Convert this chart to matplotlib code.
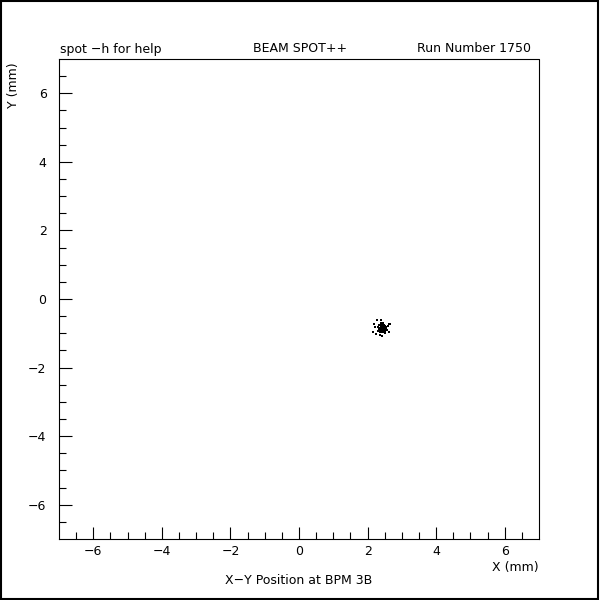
import matplotlib
matplotlib.use("Agg")
import matplotlib.pyplot as plt
from matplotlib.patches import Rectangle

# beam spot hits at BPM 3B (mm)
spot_x = [2.27, 2.39, 2.19, 2.63, 2.66, 2.16, 2.25, 2.36, 2.42, 2.63, 2.54, 2.30,
          2.33, 2.36, 2.39, 2.42, 2.45, 2.48, 2.51, 2.33, 2.36, 2.39, 2.42, 2.45,
          2.48, 2.51, 2.54, 2.33, 2.36, 2.39, 2.42, 2.45, 2.48, 2.51, 2.36, 2.39,
          2.42, 2.45, 2.48, 2.39, 2.45, 2.57, 2.30, 2.22, 2.60, 2.50]
spot_y = [-0.62, -0.62, -0.73, -0.73, -0.73, -0.97, -1.02, -1.05, -1.08, -0.97, -0.85, -0.82,
          -0.76, -0.76, -0.79, -0.76, -0.79, -0.76, -0.79, -0.85, -0.85, -0.88, -0.85, -0.88,
          -0.85, -0.88, -0.82, -0.91, -0.91, -0.94, -0.91, -0.94, -0.91, -0.94, -0.97, -0.97,
          -0.94, -0.97, -0.97, -0.70, -0.70, -0.91, -0.94, -0.82, -0.79, -1.00]

fig = plt.figure(figsize=(6, 6), dpi=100)
ax = fig.add_axes([59 / 600, 61 / 600, 480 / 600, 480 / 600])

ax.plot(spot_x, spot_y, 's', color='black', markersize=1.6, markeredgewidth=0)

ax.set_xlim(-7, 7)
ax.set_ylim(-7, 7)
ax.set_xticks(range(-6, 7, 2))
ax.set_yticks(range(-6, 7, 2))
ax.set_xticks([i * 0.5 for i in range(-13, 14)], minor=True)
ax.set_yticks([i * 0.5 for i in range(-13, 14)], minor=True)
ax.tick_params(which='major', direction='in', length=9, width=0.8, labelsize=9)
ax.tick_params(which='minor', direction='in', length=5, width=0.8)
ax.tick_params(axis='x', pad=4)
ax.tick_params(axis='y', pad=9)
ax.spines['top'].set_visible(False)
ax.spines['right'].set_visible(False)
for s in ['left', 'bottom']:
    ax.spines[s].set_linewidth(0.8)
# frame top/right drawn as plain lines (no ticks there)
ax.plot([-7, 7, 7], [7, 7, -7], color='black', lw=0.8, clip_on=False)

fig.text(60 / 600, 1 - 49 / 600, 'spot \u2212h for help', fontsize=9, ha='left', va='center')
fig.text(300 / 600, 1 - 49 / 600, 'BEAM SPOT++', fontsize=9, ha='center', va='center')
fig.text(531 / 600, 1 - 49 / 600, 'Run Number 1750', fontsize=9, ha='right', va='center')
fig.text(13 / 600, 1 - 62 / 600, 'Y (mm)', fontsize=9, rotation=90, ha='center', va='top')
fig.text(539 / 600, 1 - 568 / 600, 'X (mm)', fontsize=9, ha='right', va='center')
fig.text(299 / 600, 1 - 580 / 600, 'X\u2212Y Position at BPM 3B', fontsize=9, ha='center', va='center')

fig.patches.append(Rectangle((0.001, 0.002), 0.996, 0.997, transform=fig.transFigure,
                             fill=False, edgecolor='black', lw=1.5))

fig.savefig('out.png', dpi=100)
